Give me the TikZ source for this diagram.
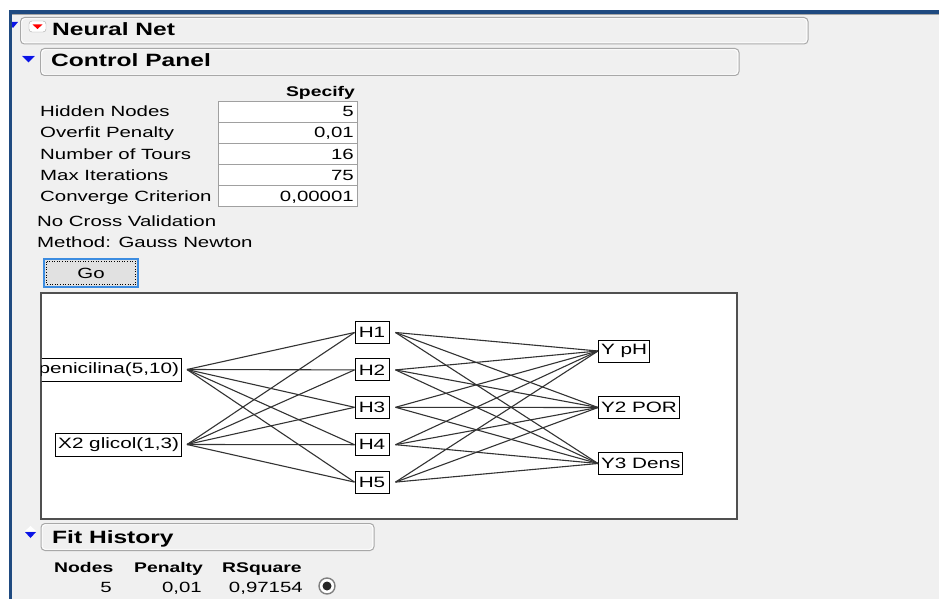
\documentclass[tikz,border=0pt]{standalone}
\usepackage{fontspec}
\setmainfont[FakeStretch=1.38]{Liberation Sans}
\definecolor{bg}{HTML}{F0F0F0}
\definecolor{frameblue}{HTML}{1F4A80}
\definecolor{triblue}{HTML}{0A14E6}
\definecolor{hdrline}{HTML}{A8A8A8}
\definecolor{cellline}{HTML}{A0A0A0}
\definecolor{netline}{HTML}{333333}
\definecolor{boxline}{HTML}{505050}
\definecolor{goborder}{HTML}{3C8CE0}
\definecolor{gofill}{HTML}{E1E1E1}
\begin{document}
\begin{tikzpicture}[x=1pt,y=-1pt,
  hdr/.style={draw=hdrline, fill=bg, rounded corners=4pt, line width=1pt},
  hdrhi/.style={draw=white, rounded corners=3pt, line width=0.8pt},
  hdrtext/.style={font=\fontsize{17.8}{20}\selectfont\bfseries, anchor=base west, inner sep=0pt},
  lbl/.style={font=\fontsize{14.8}{18}\selectfont, anchor=base west, inner sep=0pt},
  val/.style={font=\fontsize{14.8}{18}\selectfont, anchor=base east, inner sep=0pt},
  bold/.style={font=\fontsize{14}{17}\selectfont\bfseries, inner sep=0pt},
  cell/.style={draw=cellline, fill=white, line width=0.9pt},
  tri/.style={fill=triblue},
  nn/.style={draw=black, fill=white, line width=1pt, font=\fontsize{15}{18}\selectfont, inner xsep=2.5pt, inner ysep=0pt, minimum height=22pt},
  conn/.style={draw=netline, line width=1.1pt}]
\useasboundingbox (0,0) rectangle (939,599);
% background
\fill[white] (0,0) rectangle (939,599);
\fill[bg] (9,10) rectangle (939,599);

% Neural Net header
\draw[hdr] (20.5,17.5) rectangle (808,44);
\draw[hdrhi] (21.8,18.8) rectangle (806.7,42.7);
\fill[tri] (8,22) -- (18,22) -- (13,28) -- cycle;
\draw[draw=gray!70, fill=white, rounded corners=3pt] (29,21) rectangle (46,32);
\fill[red] (32.5,24.5) -- (42.5,24.5) -- (37.5,29) -- cycle;
\node[hdrtext] (hnn) at (52,36) {Neural Net};

% Control Panel header
\draw[hdr] (40.5,48.5) rectangle (739,75.5);
\draw[hdrhi] (41.8,49.8) rectangle (737.7,74.2);
\fill[white] (22,55) -- (36,55) -- (29,61.5) -- cycle;
\fill[tri] (22,56) -- (35,56) -- (28.5,62.5) -- cycle;
\node[hdrtext] (hcp) at (51,67) {Control Panel};

% Specify table
\node[bold, anchor=base east] (spec) at (355,97) {Specify};
\draw[cell] (218,101) rectangle (357,122);
\draw[cell] (218,122) rectangle (357,143);
\draw[cell] (218,143) rectangle (357,164);
\draw[cell] (218,164) rectangle (357,185);
\draw[cell] (218,185) rectangle (357,206);
\node[lbl] (l1) at (40,117) {Hidden Nodes};
\node[lbl] (l2) at (40,138) {Overfit Penalty};
\node[lbl] (l3) at (40,159) {Number of Tours};
\node[lbl] (l4) at (40,180) {Max Iterations};
\node[lbl] (l5) at (40,201) {Converge Criterion};
\node[val] (v1) at (354,117) {5};
\node[val] (v2) at (354,138) {0,01};
\node[val] (v3) at (354,159) {16};
\node[val] (v4) at (354,180) {75};
\node[val] (v5) at (354,201) {0,00001};
\node[lbl] (ncv) at (37,226) {No Cross Validation};
\node[lbl] (meth) at (37,247) {Method: Gauss Newton};

% Go button
\draw[draw=goborder, line width=1.6pt, fill=gofill] (44,259) rectangle (138,287);
\draw[dotted, line width=0.6pt] (46.5,261.5) rectangle (135.5,284.5);
\node[lbl, anchor=center] (go) at (91,273) {Go};

% Network diagram
\draw[draw=boxline, line width=1.6pt, fill=white] (41,293) rectangle (737,519);
\begin{scope}
\clip (41.8,293.8) rectangle (736.2,518.2);
\node[nn, anchor=east, minimum height=23pt] (x1) at (182,369.5) {penicilina(5,10)};
\node[nn, anchor=east, minimum height=23pt] (x2) at (182,444.5) {X2 glicol(1,3)};
\end{scope}
\node[nn, minimum width=34pt] (h1) at (372,332.5) {H1};
\node[nn, minimum width=34pt] (h2) at (372,369.9) {H2};
\node[nn, minimum width=34pt] (h3) at (372,407.3) {H3};
\node[nn, minimum width=34pt] (h4) at (372,444.7) {H4};
\node[nn, minimum width=34pt] (h5) at (372,482.1) {H5};
\node[nn, anchor=west] (y1) at (598,351) {Y pH};
\node[nn, anchor=west] (y2) at (598,407.5) {Y2 POR};
\node[nn, anchor=west] (y3) at (598,463.5) {Y3 Dens};
\coordinate (x1o) at ([xshift=5pt]x1.east);
\coordinate (x2o) at ([xshift=5pt]x2.east);
\foreach \h in {h1,h2,h3,h4,h5}{
  \coordinate (\h o) at ([xshift=6pt]\h.east);
  \draw[conn] (x1o) -- (\h.west);
  \draw[conn] (x2o) -- (\h.west);
  \draw[conn] (\h o) -- (y1.west);
  \draw[conn] (\h o) -- (y2.west);
  \draw[conn] (\h o) -- (y3.west);
}

% Fit History header
\draw[hdr] (41,523.5) rectangle (374,550.5);
\draw[hdrhi] (42.3,524.8) rectangle (372.7,549.2);
\fill[white] (25,531) -- (36,531) -- (30.5,526) -- cycle;
\fill[tri] (25,532) -- (36,532) -- (30.5,538) -- cycle;
\node[hdrtext] (hfh) at (52,543) {Fit History};
\node[bold, anchor=base west] (cn) at (54,572) {Nodes};
\node[bold, anchor=base west] (cp) at (134,572) {Penalty};
\node[bold, anchor=base west] (cr) at (222,572) {RSquare};
\node[val] (fn) at (112,592) {5};
\node[val] (fp) at (202,592) {0,01};
\node[val] (fr) at (303,592) {0,97154};
\node[circle, draw=gray, fill=white, minimum size=16pt, inner sep=0pt, line width=1.4pt] (radio) at (327,586) {};
\fill[black!85] (radio.center) circle (4.5);

% frame bars
\fill[frameblue] (9,10) rectangle (939,14);
\fill[gray!70] (12,14) rectangle (939,15);
\fill[frameblue] (9,10) rectangle (12,599);
\fill[white] (0,0) rectangle (9,599);
\end{tikzpicture}
\end{document}
